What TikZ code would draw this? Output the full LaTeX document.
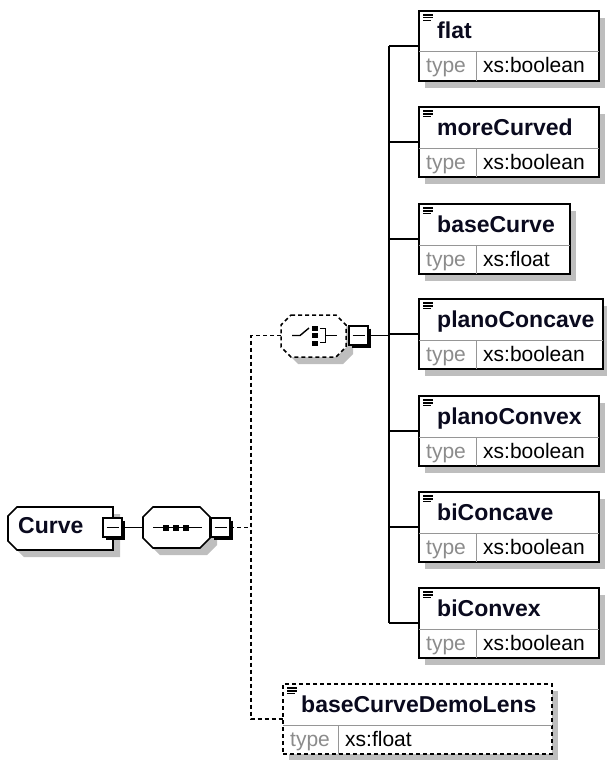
\documentclass[tikz,border=0pt]{standalone}
\usepackage{fontspec}
\setmainfont{Liberation Sans}
\definecolor{shadowc}{RGB}{190,190,190}
\definecolor{divc}{RGB}{150,150,150}
\definecolor{typec}{RGB}{140,140,140}
\definecolor{namec}{RGB}{10,10,30}
\pgfdeclarelayer{bg}
\pgfsetlayers{bg,main}
\tikzset{
 elem/.style={draw=black, line width=1.6pt, fill=white, anchor=north west, minimum height=70pt, inner sep=0pt, outer sep=0pt},
 optelem/.style={elem, line width=1.5pt, dash pattern=on 4pt off 3pt},
 divline/.style={draw=divc, line width=1pt},
 nametext/.style={anchor=base west, inner sep=0pt, font=\fontsize{23pt}{26pt}\selectfont\bfseries, text=namec},
 typetext/.style={anchor=base west, inner sep=0pt, font=\fontsize{21pt}{24pt}\selectfont, text=typec},
 valtext/.style={anchor=base west, inner sep=0pt, font=\fontsize{21pt}{24pt}\selectfont, text=black},
 conn/.style={draw=black, line width=1.6pt},
 dconn/.style={conn, line width=1.5pt, dash pattern=on 4pt off 3pt},
 iconline/.style={draw=black, line width=1.4pt},
 minusbox/.style={draw=black, fill=white, line width=1.3pt, minimum size=19pt, inner sep=0pt, outer sep=0pt},
 shadowfill/.style={fill=shadowc},
}
\newcommand\xelem[8]{%
 \node[#7, minimum width=#4pt] (#1) at (#2,#3) {};
 \begin{pgfonlayer}{bg}
 \fill[shadowfill] ([shift={(6pt,-7pt)}]#1.north west) rectangle ([shift={(6pt,-7pt)}]#1.south east);
 \end{pgfonlayer}
 \draw[divline] ([yshift=-41pt]#1.north west) -- ([yshift=-41pt]#1.north east);
 \draw[divline] ([shift={(#8pt,-41pt)}]#1.north west) -- ([xshift=#8pt]#1.south west);
 \draw[iconline] ([shift={(4pt,-4pt)}]#1.north west) -- +(10pt,0pt);
 \draw[iconline] ([shift={(4pt,-6.8pt)}]#1.north west) -- +(10pt,0pt);
 \draw[iconline] ([shift={(4pt,-9.6pt)}]#1.north west) -- +(8pt,0pt);
 \node[nametext] (#1-name) at ([shift={(18pt,-28pt)}]#1.north west) {#5};
 \node[typetext] (#1-tl) at ([shift={(7pt,-62pt)}]#1.north west) {type};
 \node[valtext] (#1-tv) at ([shift={(#8pt+7pt,-62pt)}]#1.north west) {#6};
}
\newcommand\xminus[3]{%
 \node[minusbox] (#1) at (#2,#3) {};
 \draw[line width=2.2pt] ([shift={(1.7pt,-2.5pt)}]#1.north east) -- ([shift={(1.7pt,-1.7pt)}]#1.south east) -- ([shift={(2.5pt,-1.7pt)}]#1.south west);
 \draw[line width=1.3pt] ([xshift=3.5pt]#1.west) -- ([xshift=-3.5pt]#1.east);
}
\begin{document}
\begin{tikzpicture}[x=1pt,y=-1pt]
\useasboundingbox (0,0) rectangle (606,760);
% Curve element
\fill[shadowfill] (24,514) -- (120,514) -- (120,557) -- (24,557) -- (15,548) -- (15,523) -- cycle;
\draw[conn, fill=white] (17,507) -- (113,507) -- (113,550) -- (17,550) -- (8,541) -- (8,516) -- cycle;
\node[nametext] (curvename) at (18,533) {Curve};
\xminus{curvem}{112.5}{527.5}
% sequence
\fill[shadowfill, shift={(7,7)}] (153,507) -- (200,507) -- (210,517) -- (210,538) -- (200,548) -- (153,548) -- (143,538) -- (143,517) -- cycle;
\draw[conn, fill=white] (153,507) -- (200,507) -- (210,517) -- (210,538) -- (200,548) -- (153,548) -- (143,538) -- (143,517) -- cycle;
\draw[iconline] (153,527.5) -- (202,527.5);
\fill (163,524.5) rectangle (169,530.5);
\fill (173,524.5) rectangle (179,530.5);
\fill (183,524.5) rectangle (189,530.5);
\coordinate (seqin) at (143,527.5);
\xminus{seqm}{220.5}{527.5}
% choice
\fill[shadowfill, shift={(7,7)}] (291,315) -- (336,315) -- (346,325) -- (346,347) -- (336,357) -- (291,357) -- (281,347) -- (281,325) -- cycle;
\draw[dconn, fill=white] (291,315) -- (336,315) -- (346,325) -- (346,347) -- (336,357) -- (291,357) -- (281,347) -- (281,325) -- cycle;
\draw[iconline] (292,335.5) -- (300,335.5) -- (309,328);
\fill (312,325.5) rectangle (318,330.5);
\fill (312,333) rectangle (318,338);
\fill (312,340.5) rectangle (318,345.5);
\draw[iconline] (320,328.5) -- (325.5,328.5) -- (325.5,342.5) -- (320,342.5);
\draw[iconline] (325.5,335.5) -- (337,335.5);
\coordinate (choicein) at (281,335.5);
\xminus{choicem}{358.5}{335.5}
% elements
\xelem{flat}{419}{11}{180}{flat}{xs:boolean}{elem}{57}
\xelem{moreCurved}{419}{107}{180}{moreCurved}{xs:boolean}{elem}{57}
\xelem{baseCurve}{419}{204}{151}{baseCurve}{xs:float}{elem}{57}
\xelem{planoConcave}{419}{299}{184}{planoConcave}{xs:boolean}{elem}{57}
\xelem{planoConvex}{419}{396}{180}{planoConvex}{xs:boolean}{elem}{57}
\xelem{biConcave}{419}{492}{180}{biConcave}{xs:boolean}{elem}{57}
\xelem{biConvex}{419}{588}{180}{biConvex}{xs:boolean}{elem}{57}
\xelem{lens}{283}{684}{269}{baseCurveDemoLens}{xs:float}{optelem}{55}
% connectors
\coordinate (jtop) at (251,335.5);
\coordinate (jmid) at (251,527.5);
\coordinate (jbot) at (251,719);
\coordinate (trunk) at (389,335.5);
\draw[conn] (curvem.east) -- (seqin);
\draw[dconn] (seqm.east) -- (jmid);
\draw[dconn] (choicein) -- (jtop) -- (jbot) -- (lens.west);
\draw[conn] (choicem.east) -- (trunk);
\draw[conn] (flat.west -| trunk) -- (biConvex.west -| trunk);
\foreach \n in {flat,moreCurved,baseCurve,planoConcave,planoConvex,biConcave,biConvex}
  \draw[conn] (\n.west -| trunk) -- (\n.west);
\end{tikzpicture}
\end{document}
